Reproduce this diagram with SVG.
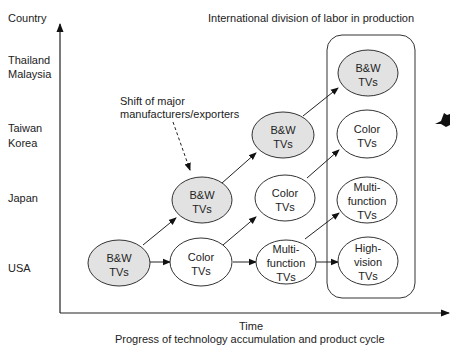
<svg xmlns="http://www.w3.org/2000/svg" width="450" height="345" viewBox="0 0 450 345">
<defs>
<marker id="ah" markerWidth="8" markerHeight="8" refX="7" refY="4" orient="auto" markerUnits="userSpaceOnUse">
<path d="M0,0.8 L8,4 L0,7.2 Z" fill="#111"/>
</marker>
<marker id="axh" markerWidth="9" markerHeight="9" refX="8" refY="4.5" orient="auto" markerUnits="userSpaceOnUse">
<path d="M0,1 L9,4.5 L0,8 Z" fill="#111"/>
</marker>
</defs>
<style>
text{font-family:"Liberation Sans",Arial,sans-serif;font-size:11px;fill:#222}
.c{text-anchor:middle}
.g ellipse{fill:#e2e2e2;stroke:#333;stroke-width:1}
.w ellipse{fill:#fff;stroke:#333;stroke-width:1}
.cn line{stroke:#222;stroke-width:1;marker-end:url(#ah)}
</style>
<rect width="450" height="345" fill="#fff"/>
<g id="axes">
<line x1="60" y1="313" x2="60" y2="24" stroke="#222" stroke-width="1.2" marker-end="url(#axh)"/>
<line x1="60" y1="313" x2="449" y2="313" stroke="#222" stroke-width="1.2" marker-end="url(#axh)"/>
</g>
<g id="labels">
<text x="8" y="22">Country</text>
<text x="8" y="64">Thailand</text>
<text x="8" y="78">Malaysia</text>
<text x="8" y="132">Taiwan</text>
<text x="8" y="147">Korea</text>
<text x="8" y="202">Japan</text>
<text x="8" y="272">USA</text>
<text x="208" y="22">International division of labor in production</text>
<text x="239" y="330">Time</text>
<text x="115" y="343">Progress of technology accumulation and product cycle</text>
<text x="120" y="105">Shift of major</text>
<text x="120" y="118">manufacturers/exporters</text>
</g>
<g id="box"><rect x="327" y="35" width="88" height="263" rx="15" fill="none" stroke="#333" stroke-width="1"/></g>
<g class="cn" id="connectors">
<line x1="150" y1="262" x2="170" y2="262"/>
<line x1="233" y1="262" x2="256" y2="262"/>
<line x1="316" y1="262" x2="338" y2="262"/>
<line x1="143" y1="245" x2="176" y2="218"/>
<line x1="222" y1="183" x2="256" y2="153"/>
<line x1="303" y1="116" x2="338" y2="88"/>
<line x1="223" y1="245" x2="256" y2="217"/>
<line x1="307" y1="178" x2="339" y2="150"/>
<line x1="305" y1="239" x2="339" y2="213"/>
<line x1="173" y1="122" x2="190" y2="170" stroke-dasharray="3,2.5"/>
</g>
<g id="n1" class="g"><ellipse cx="119" cy="263" rx="31" ry="23"/><text class="c" x="119" y="262">B&amp;W</text><text class="c" x="119" y="276">TVs</text></g>
<g id="n2" class="g"><ellipse cx="202" cy="200" rx="30" ry="23"/><text class="c" x="202" y="199">B&amp;W</text><text class="c" x="202" y="213">TVs</text></g>
<g id="n3" class="g"><ellipse cx="283" cy="135" rx="31" ry="23"/><text class="c" x="283" y="134">B&amp;W</text><text class="c" x="283" y="148">TVs</text></g>
<g id="n4" class="g"><ellipse cx="368" cy="73" rx="30" ry="23"/><text class="c" x="368" y="72">B&amp;W</text><text class="c" x="368" y="86">TVs</text></g>
<g id="n5" class="w"><ellipse cx="201" cy="262" rx="31" ry="24"/><text class="c" x="201" y="261">Color</text><text class="c" x="201" y="275">TVs</text></g>
<g id="n6" class="w"><ellipse cx="285" cy="198" rx="30" ry="23"/><text class="c" x="285" y="197">Color</text><text class="c" x="285" y="211">TVs</text></g>
<g id="n7" class="w"><ellipse cx="367" cy="134" rx="30" ry="24"/><text class="c" x="367" y="133">Color</text><text class="c" x="367" y="147">TVs</text></g>
<g id="n8" class="w"><ellipse cx="286" cy="262" rx="30" ry="22"/><text class="c" x="286" y="253">Multi-</text><text class="c" x="286" y="267">function</text><text class="c" x="286" y="281">TVs</text></g>
<g id="n9" class="w"><ellipse cx="367" cy="200" rx="30" ry="23"/><text class="c" x="367" y="191">Multi-</text><text class="c" x="367" y="205">function</text><text class="c" x="367" y="219">TVs</text></g>
<g id="n10" class="w"><ellipse cx="368" cy="261" rx="30" ry="24"/><text class="c" x="368" y="252">High-</text><text class="c" x="368" y="266">vision</text><text class="c" x="368" y="280">TVs</text></g>
<path d="M435,124 L441,121 L444,113 L447,115 L450,114 L450,125 L446,127 L441,124 Z" fill="#111"/>
</svg>
